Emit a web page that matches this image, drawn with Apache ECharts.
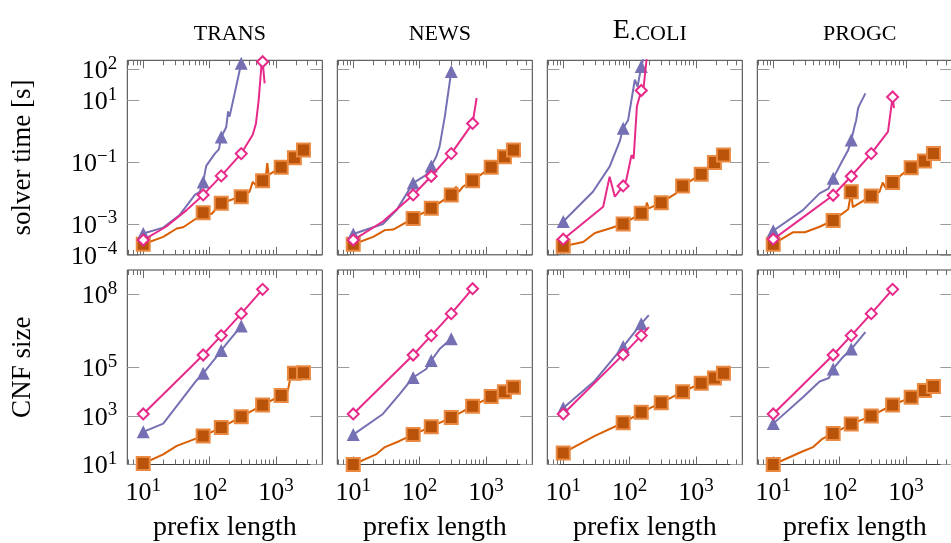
<!DOCTYPE html>
<html>
<head>
<meta charset="utf-8">
<title>solver time and CNF size over prefix length</title>
<script src="https://cdn.jsdelivr.net/npm/echarts@6/dist/echarts.min.js"></script>
<style>
html, body { margin: 0; padding: 0; background: #fff; }
#chart { width: 951px; height: 543px; }
</style>
</head>
<body>
<div id="chart"></div>
<script>
// column titles
var datasets = ['TRANS', 'NEWS', 'E.COLI', 'PROGC'];

// prefix lengths that carry a marker on every curve
var markedLengths = [10, 80, 150, 300, 630, 1200, 1900, 2600];

// tick values
var xMajorTicks = [10, 100, 1000];
var xMinorTicks = [6, 7, 8, 9, 20, 30, 40, 50, 60, 70, 80, 90,
    200, 300, 400, 500, 600, 700, 800, 900, 2000, 3000, 4000, 5000];
var timeTicks = [1e-4, 1e-3, 1e-1, 10, 100];
var sizeTicks = [10, 1e3, 1e5, 1e8];

// solver time [s]: [prefix length, seconds]
var transTimeSq = [[10, 2.2e-4], [20, 3.8e-4], [32, 7.1e-4], [40, 7.8e-4], [63, 1.5e-3], [80, 2.3e-3], [107, 2.1e-3],
    [150, 4.7e-3], [224, 6.3e-3], [300, 7.6e-3], [400, 1.1e-2], [447, 2.3e-2], [500, 1.8e-2], [630, 2.5e-2],
    [708, 3.9e-2], [741, 9.3e-2], [776, 3.9e-2], [1200, 6.9e-2], [1900, 0.14], [2600, 0.25]];
var transTimeTri = [[10, 4.9e-4], [20, 7.6e-4], [35, 1.9e-3], [60, 8.7e-3], [71, 1.1e-2], [80, 2.3e-2], [89, 7.6e-2],
    [120, 0.19], [138, 0.26], [150, 0.65], [178, 1.35], [190, 4.4], [200, 3.0], [300, 160]];
var transTimeDia = [[10, 3.0e-4], [22, 8.1e-4], [45, 2.8e-3], [80, 8.7e-3], [150, 3.6e-2], [300, 0.19], [447, 0.78],
    [500, 1.8], [550, 10.5], [603, 126], [630, 180], [676, 36]];

var newsTimeSq = [[10, 2.2e-4], [20, 3.8e-4], [30, 6.3e-4], [40, 6.6e-4], [80, 1.5e-3], [150, 3.2e-3], [300, 8.7e-3],
    [355, 1.6e-2], [390, 1.1e-2], [447, 1.6e-2], [630, 2.5e-2], [1200, 6.9e-2], [1900, 0.15], [2600, 0.25]];
var newsTimeTri = [[10, 4.7e-4], [28, 1.0e-3], [45, 2.8e-3], [80, 2.1e-2], [126, 3.9e-2], [150, 7.6e-2], [178, 0.15],
    [200, 0.32], [240, 3.0], [300, 87]];
var newsTimeDia = [[10, 3.0e-4], [28, 1.2e-3], [80, 8.7e-3], [150, 3.5e-2], [300, 0.19], [630, 1.8], [724, 12]];

var ecoliTimeSq = [[10, 1.9e-4], [20, 2.6e-4], [30, 5.1e-4], [50, 7.1e-4], [80, 1.0e-3], [150, 2.2e-3], [178, 3.6e-3],
    [182, 4.9e-3], [195, 3.2e-3], [300, 4.9e-3], [500, 9.8e-3], [630, 1.7e-2], [1200, 4.1e-2], [1900, 9.8e-2], [2600, 0.17]];
var ecoliTimeTri = [[10, 1.2e-3], [28, 1.1e-2], [50, 7.2e-2], [71, 0.47], [80, 1.26], [95, 2.3], [120, 47], [132, 28],
    [150, 126], [160, 210], [175, 900]];
var ecoliTimeDia = [[10, 3.2e-4], [40, 3.6e-3], [50, 3.4e-2], [60, 7.6e-3], [80, 1.7e-2], [89, 2.6e-2], [107, 0.17],
    [115, 0.13], [129, 6.5], [150, 21], [158, 15], [190, 600]];

var progcTimeSq = [[10, 2.2e-4], [20, 5.4e-4], [30, 5.4e-4], [50, 8.1e-4], [80, 1.3e-3], [135, 3.0e-3], [150, 1.1e-2],
    [158, 3.5e-3], [214, 5.2e-3], [300, 8.1e-3], [400, 1.1e-2], [447, 2.2e-2], [490, 1.5e-2], [630, 2.2e-2],
    [912, 4.4e-2], [1200, 6.6e-2], [1900, 0.11], [2600, 0.19]];
var progcTimeTri = [[10, 6.0e-4], [28, 2.8e-3], [50, 9.8e-3], [68, 1.4e-2], [80, 3.0e-2], [107, 0.10], [135, 0.25],
    [150, 0.52], [170, 1.6], [178, 2.3], [190, 5.6], [200, 7.2], [245, 17]];
var progcTimeDia = [[10, 3.2e-4], [25, 1.35e-3], [80, 8.5e-3], [150, 3.5e-2], [300, 0.19], [537, 0.98], [603, 6.5],
    [630, 13], [660, 5.6]];

// CNF size: [prefix length, size]
var transSizeSq = [[10, 11], [20, 26], [32, 58], [80, 150], [150, 330], [300, 930], [630, 2800], [1200, 6900],
    [1514, 1.1e4], [1698, 5.2e4], [1900, 5.6e4], [2600, 6.0e4]];
var transSizeTri = [[10, 220], [20, 480], [63, 2.8e4], [80, 5.6e4], [120, 2.2e5], [150, 4.9e5], [190, 1.1e6], [300, 5.0e6]];
var transSizeDia = [[10, 1.2e3], [80, 3.2e5], [150, 2.0e6], [300, 1.6e7], [630, 1.6e8]];

var newsSizeSq = [[10, 10], [22, 26], [30, 52], [50, 93], [80, 170], [150, 360], [300, 850], [630, 2500],
    [1200, 6200], [1900, 9800], [2600, 1.5e4]];
var newsSizeTri = [[10, 170], [28, 1.2e3], [50, 7.9e3], [80, 3.8e4], [126, 8.5e4], [150, 1.9e5], [200, 5.6e5], [300, 1.5e6]];
var newsSizeDia = [[10, 1.2e3], [80, 3.2e5], [150, 2.0e6], [300, 1.6e7], [630, 1.7e8]];

var ecoliSizeSq = [[10, 30], [30, 150], [80, 520], [150, 1400], [300, 3500], [630, 9800], [1200, 2.2e4],
    [1900, 3.6e4], [2600, 5.6e4]];
var ecoliSizeTri = [[10, 2100], [30, 2.8e4], [40, 7.2e4], [80, 7.1e5], [150, 6.2e6], [195, 1.4e7]];
var ecoliSizeDia = [[10, 1.2e3], [80, 3.3e5], [150, 2.0e6], [195, 4.5e6]];

var progcSizeSq = [[10, 10], [28, 35], [40, 52], [54, 110], [80, 190], [150, 460], [300, 1000], [630, 2800],
    [1200, 5800], [1900, 1.1e4], [2600, 1.6e4]];
var progcSizeTri = [[10, 480], [28, 5.8e3], [50, 2.6e4], [69, 3.6e4], [80, 8.5e4], [112, 2.6e5], [150, 5.6e5], [245, 2.8e6]];
var progcSizeDia = [[10, 1.2e3], [80, 3.2e5], [150, 2.0e6], [300, 1.6e7], [630, 1.6e8]];

var timeCols = [
    [transTimeSq, transTimeTri, transTimeDia],
    [newsTimeSq, newsTimeTri, newsTimeDia],
    [ecoliTimeSq, ecoliTimeTri, ecoliTimeDia],
    [progcTimeSq, progcTimeTri, progcTimeDia]
];
var sizeCols = [
    [transSizeSq, transSizeTri, transSizeDia],
    [newsSizeSq, newsSizeTri, newsSizeDia],
    [ecoliSizeSq, ecoliSizeTri, ecoliSizeDia],
    [progcSizeSq, progcSizeTri, progcSizeDia]
];

// ---- layout / look ----
var serif = 'Liberation Serif';
var colLeft = [127.3, 337.3, 547.3, 757.3];
var rowTop = [60.3, 270];
var boxW = 195, boxH = 194.5;
var xRange = [5.75, 5000];
var yRanges = [[1e-4, 200], [10, 1e9]];
var rowTicks = [timeTicks, sizeTicks];
var rowNames = ['solver time [s]', 'CNF size'];

var looks = [
    {name: 'squares', color: '#d95f02', width: 2, symbol: 'rect', size: 13, fill: '#b9530a', border: '#ea8a42', bw: 2},
    {name: 'triangles', color: '#7570b3', width: 2, symbol: 'triangle', size: 13, fill: '#7570b3', border: '#7570b3', bw: 0},
    {name: 'diamonds', color: '#e7298a', width: 2, symbol: 'diamond', size: 11, fill: '#ffffff', border: '#e7298a', bw: 2}
];

function powerLabel(v) {
    var e = Math.round(Math.log10(v));
    return '{b|10}{s|' + (e < 0 ? '\u2212' + (-e) : e) + '}';
}
var labelRich = {
    b: {fontFamily: serif, fontSize: 26, color: '#000', lineHeight: 30, verticalAlign: 'bottom'},
    s: {fontFamily: serif, fontSize: 19, color: '#000', lineHeight: 16, verticalAlign: 'top'}
};

function toPoints(pairs) {
    return pairs.map(function (p) {
        var item = {value: p};
        if (markedLengths.indexOf(p[0]) < 0) item.symbol = 'none';
        return item;
    });
}

function tickLabels(values, margin) {
    return {
        show: true, customValues: values, formatter: powerLabel, rich: labelRich, margin: margin,
        hideOverlap: false, showMinLabel: true, showMaxLabel: true
    };
}

function xAxisFor(g, row, pos, major) {
    var ax = {
        type: 'log', gridIndex: g, position: pos, min: xRange[0], max: xRange[1],
        axisLine: {show: false, onZero: false},
        axisTick: {show: true, inside: true, length: major ? 8 : 5,
            customValues: major ? xMajorTicks : xMinorTicks,
            lineStyle: {color: '#6a6a6a', width: 1}},
        axisLabel: {show: false},
        splitLine: {show: false}
    };
    if (major && pos === 'bottom' && row === 1) {
        ax.axisLabel = tickLabels(xMajorTicks, 12);
        ax.name = 'prefix length';
        ax.nameLocation = 'middle';
        ax.nameGap = 49;
        ax.nameTextStyle = {fontFamily: serif, fontSize: 28, color: '#000'};
    }
    return ax;
}

function yAxisFor(g, row, col, pos) {
    var ax = {
        type: 'log', gridIndex: g, position: pos, min: yRanges[row][0], max: yRanges[row][1],
        axisLine: {show: false, onZero: false},
        axisTick: {show: true, inside: true, length: 12, customValues: rowTicks[row],
            lineStyle: {color: '#9a9a9a', width: 1}},
        axisLabel: {show: false},
        splitLine: {show: false}
    };
    if (pos === 'left' && col === 0) {
        ax.axisLabel = tickLabels(rowTicks[row], 10);
        ax.name = rowNames[row];
        ax.nameLocation = 'middle';
        ax.nameRotate = 90;
        ax.nameGap = 91;
        ax.nameTextStyle = {fontFamily: serif, fontSize: 27, color: '#000'};
    }
    return ax;
}

var grids = [], xAxes = [], yAxes = [], series = [], titles = [];

for (var row = 0; row < 2; row++) {
    for (var col = 0; col < 4; col++) {
        var g = row * 4 + col;
        grids.push({
            left: colLeft[col], top: rowTop[row], width: boxW, height: boxH,
            show: true, borderColor: '#3c3c3c', borderWidth: 1, backgroundColor: 'transparent',
            outerBoundsMode: 'none'
        });
        xAxes.push(xAxisFor(g, row, 'bottom', true));
        xAxes.push(xAxisFor(g, row, 'bottom', false));
        xAxes.push(xAxisFor(g, row, 'top', true));
        xAxes.push(xAxisFor(g, row, 'top', false));
        yAxes.push(yAxisFor(g, row, col, 'left'));
        yAxes.push(yAxisFor(g, row, col, 'right'));

        var curves = (row === 0 ? timeCols : sizeCols)[col];
        curves.forEach(function (pairs, k) {
            var lk = looks[k];
            series.push({
                name: lk.name,
                type: 'line',
                xAxisIndex: g * 4,
                yAxisIndex: g * 2,
                data: toPoints(pairs),
                symbol: lk.symbol,
                symbolSize: lk.size,
                showSymbol: true,
                showAllSymbol: true,
                clip: true,
                z: 2 + k,
                lineStyle: {color: lk.color, width: lk.width},
                itemStyle: {color: lk.fill, borderColor: lk.border, borderWidth: lk.bw},
                emphasis: {disabled: true}
            });
        });
    }
}

datasets.forEach(function (name, col) {
    var text = name === 'E.COLI' ? '{big|E}{sc|.COLI}' : '{sc|' + name + '}';
    titles.push({
        text: text,
        left: colLeft[col] + boxW / 2,
        top: 12,
        textAlign: 'center',
        textStyle: {
            fontWeight: 'normal',
            rich: {
                sc: {fontFamily: serif, fontSize: 22, fontWeight: 'normal', color: '#000', lineHeight: 28, verticalAlign: 'bottom'},
                big: {fontFamily: serif, fontSize: 28, fontWeight: 'normal', color: '#000', lineHeight: 28, verticalAlign: 'bottom'}
            }
        }
    });
});

var chart = echarts.init(document.getElementById('chart'));
chart.setOption({
    animation: false,
    backgroundColor: '#ffffff',
    title: titles,
    grid: grids,
    xAxis: xAxes,
    yAxis: yAxes,
    series: series
});
</script>
</body>
</html>
